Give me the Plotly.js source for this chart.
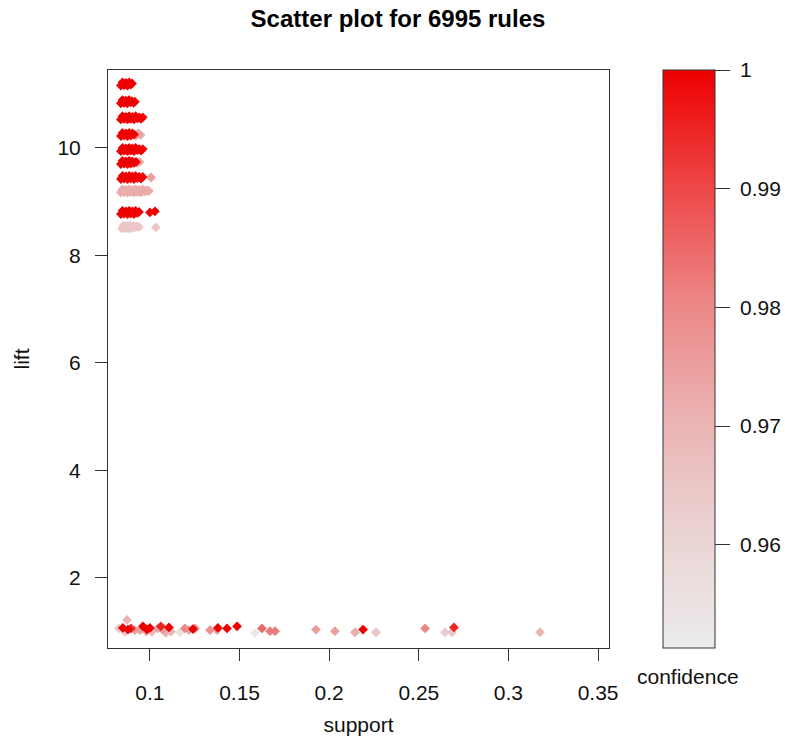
<!DOCTYPE html>
<html>
<head>
<meta charset="utf-8">
<script src="https://cdn.plot.ly/plotly-3.0.1.min.js"></script>
<style>html,body{margin:0;padding:0;background:#fff;}#chart{width:785px;height:743px;}</style>
</head>
<body>
<div id="chart"></div>
<script>
const support = [
  // lift ~11.19
  0.0838,0.0847,0.0856,0.0866,0.0875,0.0884,0.0893,0.0900,
  // lift ~10.86
  0.0838,0.0847,0.0856,0.0865,0.0874,0.0883,0.0892,0.0900,0.0909,0.0916,
  // lift ~10.56
  0.0838,0.0847,0.0856,0.0866,0.0875,0.0884,0.0893,0.0902,0.0911,0.0920,0.0930,0.0940,0.0950,0.0960,
  // lift ~10.25
  0.0838,0.0847,0.0856,0.0866,0.0875,0.0884,0.0893,0.0902,0.0911,0.0922,0.0935,0.0948,
  // lift ~9.97
  0.0838,0.0847,0.0856,0.0866,0.0875,0.0884,0.0893,0.0902,0.0911,0.0920,0.0930,0.0940,0.0950,0.0960,
  // lift ~9.73
  0.0838,0.0847,0.0856,0.0866,0.0875,0.0884,0.0893,0.0902,0.0911,0.0922,0.0930,0.0942,
  // lift ~9.45
  0.0838,0.0847,0.0856,0.0866,0.0875,0.0884,0.0893,0.0902,0.0911,0.0920,0.0930,0.0940,0.0950,0.0960,0.1006,
  // lift ~9.20
  0.0838,0.0847,0.0856,0.0866,0.0875,0.0884,0.0893,0.0902,0.0911,0.0920,0.0930,0.0940,0.0950,0.0960,0.0970,0.0979,0.0987,0.0994,
  // lift ~8.80
  0.0838,0.0847,0.0856,0.0866,0.0875,0.0884,0.0893,0.0902,0.0911,0.0920,0.0930,0.0939,0.1000,0.1028,
  // lift ~8.53
  0.0844,0.0853,0.0862,0.0871,0.0880,0.0889,0.0898,0.0907,0.0916,0.0927,0.0939,0.1033,
  // lift ~1
  0.0872,0.0827,0.0849,0.0877,0.0894,0.0860,0.0916,0.0944,0.0961,0.0983,0.1000,0.0978,0.1011,
  0.1045,0.1061,0.1073,0.1089,0.1106,0.1117,0.1167,0.1195,0.1218,0.1240,0.1251,0.1335,0.1374,
  0.1379,0.1430,0.1486,0.1586,0.1625,0.1670,0.1698,0.1926,0.2032,0.2144,0.2189,0.2261,0.2535,
  0.2646,0.2685,0.2696,0.3176
];
const lift = [
  11.16,11.22,11.17,11.21,11.16,11.22,11.18,11.20,
  10.83,10.89,10.84,10.88,10.83,10.89,10.85,10.87,10.84,10.86,
  10.53,10.59,10.54,10.58,10.53,10.59,10.54,10.58,10.53,10.59,10.55,10.57,10.54,10.57,
  10.22,10.28,10.23,10.27,10.22,10.28,10.23,10.27,10.25,10.23,10.27,10.24,
  9.94,10.00,9.95,9.99,9.94,10.00,9.95,9.99,9.94,10.00,9.96,9.98,9.95,9.98,
  9.70,9.76,9.71,9.75,9.70,9.76,9.71,9.75,9.72,9.74,9.72,9.74,
  9.42,9.48,9.43,9.47,9.42,9.48,9.43,9.47,9.42,9.48,9.44,9.46,9.43,9.46,9.45,
  9.17,9.23,9.18,9.22,9.17,9.23,9.18,9.22,9.17,9.23,9.18,9.22,9.17,9.23,9.19,9.21,9.20,9.20,
  8.77,8.83,8.78,8.82,8.77,8.83,8.78,8.82,8.77,8.83,8.79,8.81,8.80,8.82,
  8.50,8.56,8.51,8.55,8.50,8.56,8.51,8.55,8.52,8.54,8.53,8.52,
  1.22,1.06,1.07,1.04,1.06,1.00,1.03,1.03,1.10,1.04,1.07,1.00,1.00,
  1.06,1.10,1.03,0.98,1.08,1.00,0.99,1.06,1.03,1.05,1.06,1.03,1.03,
  1.07,1.06,1.10,0.98,1.06,1.01,1.01,1.04,1.01,0.99,1.04,0.99,1.06,
  0.99,0.99,1.08,0.99
];
const confidence = [
  1,1,1,1,1,1,1,1,
  1,1,1,1,1,1,1,1,1,0.998,
  1,1,1,1,1,1,1,1,1,1,1,1,1,0.998,
  1,1,1,1,1,1,1,1,1,0.975,0.975,0.972,
  1,1,1,1,1,1,1,1,1,1,1,1,1,0.998,
  1,1,1,1,1,1,1,1,1,1,0.975,0.973,
  1,1,1,1,1,1,1,1,1,1,1,1,1,0.998,0.975,
  0.972,0.972,0.972,0.972,0.972,0.972,0.972,0.972,0.972,0.972,0.972,0.972,0.972,0.972,0.972,0.972,0.972,0.972,
  1,1,1,1,1,1,1,1,1,1,1,1,1,1,
  0.965,0.965,0.965,0.965,0.965,0.965,0.965,0.965,0.965,0.965,0.965,0.965,
  0.97,0.965,1,1,0.995,0.965,0.975,0.975,1,1,1,0.97,0.97,
  0.975,0.995,0.975,0.97,1,0.97,0.955,0.98,0.975,1,0.98,0.978,0.975,
  1,1,1,0.953,0.985,0.982,0.982,0.975,0.975,0.972,1,0.965,0.98,
  0.963,0.965,0.995,0.97
];
const xTickVals = [0.1, 0.15, 0.2, 0.25, 0.3, 0.35];
const xTickText = ['0.1', '0.15', '0.2', '0.25', '0.3', '0.35'];
const yTickVals = [2, 4, 6, 8, 10];
const yTickText = ['2', '4', '6', '8', '10'];
const cbTickVals = [0.96, 0.97, 0.98, 0.99, 1];
const cbTickText = ['0.96', '0.97', '0.98', '0.99', '1'];

// draw lower confidence first, so red points end on top
const order = confidence.map((c, i) => i).sort((a, b) => confidence[a] - confidence[b]);
const xs = order.map(i => support[i]);
const ys = order.map(i => lift[i]);
const cs = order.map(i => confidence[i]);

const FONT = 'Liberation Sans, Arial, Helvetica, sans-serif';

const trace = {
  type: 'scatter',
  mode: 'markers',
  x: xs, y: ys,
  hoverinfo: 'skip',
  marker: {
    symbol: 'diamond',
    size: 7.5,
    line: {width: 0},
    color: cs,
    cmin: 0.9513,
    cmax: 1,
    colorscale: [
      [0, '#EBEBEB'], [0.2, '#EBD3D3'], [0.4, '#EBB2B2'],
      [0.6, '#EC8686'], [0.8, '#ED4646'], [1, '#EE0000']
    ],
    showscale: true,
    colorbar: {
      x: 1.1078, xanchor: 'left', xpad: 0,
      y: 0.5, yanchor: 'middle', ypad: 0,
      len: 1, lenmode: 'fraction',
      thickness: 52, thicknessmode: 'pixels',
      outlinewidth: 1, outlinecolor: '#333',
      ticks: 'outside', ticklen: 15, tickwidth: 1, tickcolor: '#333',
      tickvals: cbTickVals,
      ticktext: cbTickText.map(t => '\u00a0' + t),
      tickfont: {family: FONT, size: 21, color: '#111'}
    }
  }
};

const layout = {
  width: 785, height: 743,
  paper_bgcolor: '#fff', plot_bgcolor: '#fff',
  margin: {l: 108, r: 176, t: 70, b: 95, autoexpand: false},
  showlegend: false,
  font: {family: FONT, color: '#111'},
  title: {
    text: 'Scatter plot for 6995 rules',
    font: {family: FONT, size: 24, color: '#000', weight: 'bold'},
    x: 0.507, xref: 'container', xanchor: 'center',
    y: 0.9744, yref: 'container', yanchor: 'middle'
  },
  xaxis: {
    range: [0.0766, 0.3561],
    tickvals: xTickVals, ticktext: xTickText,
    ticks: 'outside', ticklen: 12, tickwidth: 1, tickcolor: '#333',
    tickfont: {family: FONT, size: 21, color: '#111'},
    ticklabelstandoff: 14,
    showline: true, mirror: true, linecolor: '#333', linewidth: 1,
    showgrid: false, zeroline: false,
    title: {text: 'support', font: {family: FONT, size: 21, color: '#111'}, standoff: 14}
  },
  yaxis: {
    range: [0.697, 11.45],
    tickvals: yTickVals, ticktext: yTickText,
    ticks: 'outside', ticklen: 12, tickwidth: 1, tickcolor: '#333',
    tickfont: {family: FONT, size: 21, color: '#111'},
    ticklabelstandoff: 10,
    showline: true, mirror: true, linecolor: '#333', linewidth: 1,
    showgrid: false, zeroline: false,
    title: {text: 'lift', font: {family: FONT, size: 21, color: '#111'}, standoff: 22}
  },
  annotations: [{
    text: 'confidence', xref: 'paper', yref: 'paper',
    x: (688 - 108) / 501, y: -(676 - 648) / 578,
    xanchor: 'center', yanchor: 'middle', showarrow: false,
    font: {family: FONT, size: 21, color: '#111'}
  }]
};

Plotly.newPlot('chart', [trace], layout, {displayModeBar: false, staticPlot: true});
</script>
</body>
</html>
